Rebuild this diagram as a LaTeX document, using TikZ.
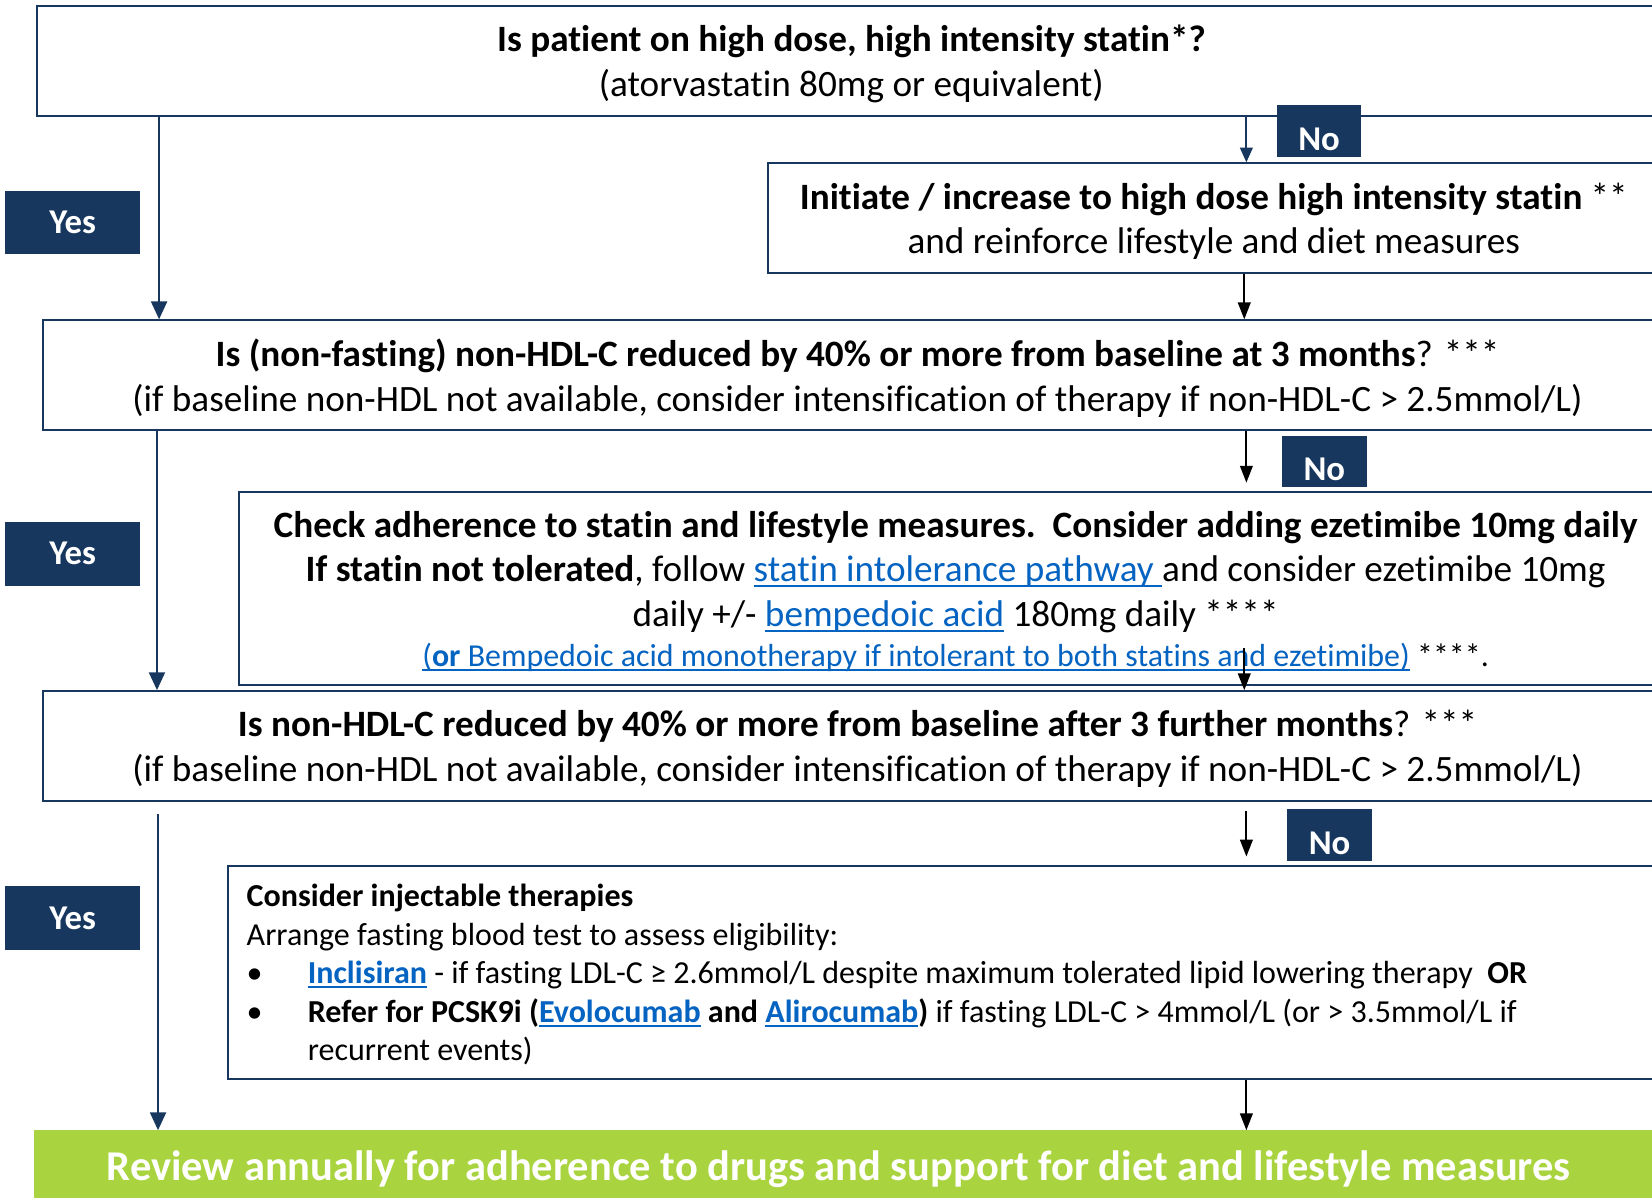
\documentclass[tikz,border=0pt]{standalone}
\usepackage{fontspec}
\setmainfont{Carlito}[Ligatures=NoCommon]
\usetikzlibrary{arrows.meta,calc}
\definecolor{navy}{HTML}{17375E}
\definecolor{linkblue}{HTML}{0563C1}
\definecolor{limegreen}{HTML}{A9D43F}
\newsavebox{\lnkbox}
\newcommand{\lnk}[1]{\begingroup\color{linkblue}\sbox{\lnkbox}{#1}\rlap{\rule[-0.14em]{\wd\lnkbox}{0.055em}}\usebox{\lnkbox}\endgroup}
\newcommand{\fbig}{\fontsize{35.3}{42.5}\selectfont}
\newcommand{\fmid}{\fontsize{30.4}{36.5}\selectfont}
\newcommand{\fsml}{\fontsize{30.3}{35}\selectfont}
\begin{document}
\begin{tikzpicture}[x=1pt,y=-1pt,
  box/.style={draw=navy, line width=1.8pt, fill=white, inner sep=0pt},
  lab/.style={fill=navy, text=white, font=\fontsize{33}{40}\selectfont\bfseries, inner sep=0pt},
  navyarr/.style={draw=navy, line width=2.6pt, -{Triangle[length=17pt,width=15pt]}},
  blkarr/.style={draw=black, line width=1.8pt, -{Triangle[length=16pt,width=12pt]}},
  txt/.style={align=center, inner sep=0pt, font=\fbig}]
\useasboundingbox (0,0) rectangle (1568,1137);
\clip (0,0) rectangle (1568,1137);

% boxes
\node[box, minimum width=1546pt, minimum height=104pt] (q1) at (808,58) {};
\node[box, minimum width=846pt, minimum height=104pt] (ini) at (1152,207) {};
\node[box, minimum width=1546pt, minimum height=104pt] (q2) at (814,356) {};
\node[box, minimum width=1360pt, minimum height=183pt] (chk) at (907,558.5) {};
\node[box, minimum width=1546pt, minimum height=104pt] (q3) at (814,708) {};
\node[box, minimum width=1380pt, minimum height=202pt] (inj) at (906,923) {};
\node[fill=limegreen, inner sep=0pt, minimum width=1570pt, minimum height=72pt] (rev) at (817,1109) {};

% texts
\node[txt] (q1t) at (808,60.5) {\textbf{Is patient on high dose, high intensity statin*?}\\(atorvastatin 80mg or equivalent)};
\node[txt] (init) at (1152,210) {\textbf{Initiate / increase to high dose high intensity statin} **\\and reinforce lifestyle and diet measures};
\node[txt] (q2t) at (814,359) {\textbf{Is (non-fasting) non-HDL-C reduced by 40\% or more from baseline at 3 months}? ***\\(if baseline non-HDL not available, consider intensification of therapy if non-HDL-C > 2.5mmol/L)};
\node[txt] (chkt) at (907,543) {\textbf{Check adherence to statin and lifestyle measures.\ \ Consider adding ezetimibe 10mg daily}\\\textbf{If statin not tolerated}, follow \lnk{statin intolerance pathway\ }and consider ezetimibe 10mg\\daily +/- \lnk{bempedoic acid} 180mg daily ****};
\node[txt, font=\fsml] (chkt2) at (907,624) {\lnk{(\textbf{or} Bempedoic acid monotherapy if intolerant to both statins and ezetimibe)} ****.};
\node[txt] (q3t) at (814,711) {\textbf{Is non-HDL-C reduced by 40\% or more from baseline after 3 further months}? ***\\(if baseline non-HDL not available, consider intensification of therapy if non-HDL-C > 2.5mmol/L)};
\node[align=left, inner sep=0pt, font=\fmid, anchor=west] (injt) at (234,925) {\textbf{Consider injectable therapies}\\
Arrange fasting blood test to assess eligibility:\\
\makebox[58pt][l]{•}\lnk{\textbf{Inclisiran}} - if fasting LDL-C ≥ 2.6mmol/L despite maximum tolerated lipid lowering therapy\ \ \textbf{OR}\\
\makebox[58pt][l]{•}\textbf{Refer for PCSK9i (\lnk{Evolocumab} and \lnk{Alirocumab})} if fasting LDL-C > 4mmol/L (or > 3.5mmol/L if\\
\hspace*{58pt}recurrent events)};
\node[inner sep=0pt, text=white, font=\fontsize{40.3}{48}\selectfont\bfseries] (revt) at (796,1110) {Review annually for adherence to drugs and support for diet and lifestyle measures};

% labels
\node[lab, minimum width=128pt, minimum height=60pt] (yes1) at (69,211) {Yes};
\node[lab, minimum width=128pt, minimum height=61pt] (yes2) at (69,525.5) {Yes};
\node[lab, minimum width=128pt, minimum height=61pt] (yes3) at (69,871.5) {Yes};
\node[lab, minimum width=80pt, minimum height=49pt, text height=37pt, text depth=0pt] (no1) at (1252,124.5) {No};
\node[lab, minimum width=80pt, minimum height=48pt, text height=37pt, text depth=0pt] (no2) at (1257,438) {No};
\node[lab, minimum width=80pt, minimum height=49pt, text height=37pt, text depth=0pt] (no3) at (1262,792.5) {No};

% connector anchors
\coordinate (xy1) at (151,0);
\coordinate (xy2) at (149,0);
\coordinate (y3s) at (150,773);
\coordinate (xn) at (1183,0);
\coordinate (xn2) at (1181,0);
\coordinate (c3s) at (1181,615);
\coordinate (n3s) at (1183,770);
\coordinate (n3e) at (1183,813);

% arrows
\draw[navyarr] (q1.south -| xy1) -- (q2.north -| xy1);
\draw[navyarr] (q2.south -| xy2) -- (q3.north -| xy2);
\draw[navyarr] (y3s) -- (rev.north -| y3s);
\draw[navyarr, line width=2pt, -{Triangle[length=14pt,width=12pt]}] (q1.south -| xn) -- (ini.north -| xn);
\draw[blkarr] (ini.south -| xn2) -- (q2.north -| xn2);
\draw[blkarr] (q2.south -| xn) -- ($(chk.north -| xn)+(0,-8)$);
\draw[blkarr] (c3s) -- (q3.north -| c3s);
\draw[blkarr] (n3s) -- (n3e);
\draw[blkarr] (inj.south -| xn) -- (rev.north -| xn);
\end{tikzpicture}
\end{document}
